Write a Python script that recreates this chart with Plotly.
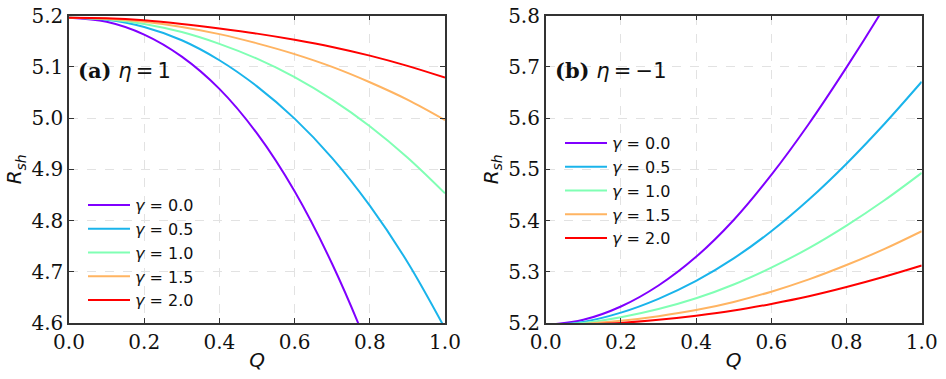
import plotly.graph_objects as go

# Q grid and shadow radius values
q = [0.0, 0.1, 0.2, 0.3, 0.4, 0.5, 0.6, 0.7, 0.8, 0.9, 1.0]
gammas = ["0.0", "0.5", "1.0", "1.5", "2.0"]
colors = ["#8000ff", "#1ab4eb", "#80ffb4", "#ffb462", "#ff0000"]

# (a) eta = 1
rsh_a_g00 = [5.196, 5.188, 5.163, 5.120, 5.057, 4.970, 4.857, 4.715, 4.543, 4.338, 4.098]
rsh_a_g05 = [5.196, 5.192, 5.178, 5.152, 5.113, 5.062, 4.999, 4.922, 4.829, 4.719, 4.589]
rsh_a_g10 = [5.196, 5.193, 5.184, 5.168, 5.145, 5.116, 5.080, 5.036, 4.984, 4.923, 4.853]
rsh_a_g15 = [5.196, 5.194, 5.188, 5.178, 5.164, 5.146, 5.125, 5.100, 5.070, 5.036, 4.996]
rsh_a_g20 = [5.196, 5.195, 5.191, 5.184, 5.175, 5.165, 5.153, 5.139, 5.122, 5.102, 5.079]

# (b) eta = -1
rsh_b_g00 = [5.196, 5.206, 5.232, 5.273, 5.329, 5.401, 5.489, 5.589, 5.699, 5.816, 5.940]
rsh_b_g05 = [5.196, 5.202, 5.220, 5.247, 5.282, 5.326, 5.379, 5.441, 5.511, 5.588, 5.671]
rsh_b_g10 = [5.196, 5.200, 5.211, 5.227, 5.248, 5.275, 5.308, 5.346, 5.390, 5.439, 5.493]
rsh_b_g15 = [5.196, 5.198, 5.204, 5.213, 5.225, 5.241, 5.261, 5.285, 5.313, 5.344, 5.379]
rsh_b_g20 = [5.196, 5.197, 5.200, 5.206, 5.214, 5.224, 5.237, 5.252, 5.270, 5.290, 5.312]

panel_a = [rsh_a_g00, rsh_a_g05, rsh_a_g10, rsh_a_g15, rsh_a_g20]
panel_b = [rsh_b_g00, rsh_b_g05, rsh_b_g10, rsh_b_g15, rsh_b_g20]

W, H = 946, 379


def fx(px):
    return px / W


def fy(py):
    return 1 - py / H


fig = go.Figure()

for g, c, ya in zip(gammas, colors, panel_a):
    fig.add_trace(go.Scatter(x=q, y=ya, mode="lines", line=dict(color=c, width=2, shape="spline"),
                             name="<i>γ</i> = " + g, xaxis="x", yaxis="y", legend="legend"))
for g, c, yb in zip(gammas, colors, panel_b):
    fig.add_trace(go.Scatter(x=q, y=yb, mode="lines", line=dict(color=c, width=2, shape="spline"),
                             name="<i>γ</i> = " + g, xaxis="x2", yaxis="y2", legend="legend2"))

ydom = [fy(322.9), fy(15.7)]
axis_common = dict(
    showline=True, linecolor="#333333", linewidth=1.5, mirror="ticks",
    ticks="inside", ticklen=5, tickwidth=1.2, tickcolor="#333333",
    showgrid=True, gridcolor="#e2e2e2", griddash="dash", gridwidth=1,
    zeroline=False, automargin=False, ticklabeloverflow="allow",
    tickfont=dict(family="DejaVu Serif", size=20, color="#111111"),
)
xtitle = dict(text="<i>Q</i>", font=dict(family="DejaVu Sans", size=20, color="#111111"), standoff=0)
ytitle = dict(text="<i>R<sub>sh</sub></i>", font=dict(family="DejaVu Sans", size=20, color="#111111"), standoff=4)
legfont = dict(family="DejaVu Sans", size=16, color="#111111")

fig.update_layout(
    width=W, height=H,
    margin=dict(l=0, r=0, t=0, b=0),
    paper_bgcolor="white", plot_bgcolor="white",
    xaxis=dict(axis_common, domain=[fx(69), fx(445)], range=[0, 1], dtick=0.2, tickformat=".1f",
               anchor="y", title=xtitle),
    yaxis=dict(axis_common, domain=ydom, range=[4.6, 5.2], dtick=0.1, tickformat=".1f",
               anchor="x", title=ytitle),
    xaxis2=dict(axis_common, domain=[fx(545.7), fx(921.7)], range=[0, 1], dtick=0.2, tickformat=".1f",
                anchor="y2", title=xtitle),
    yaxis2=dict(axis_common, domain=ydom, range=[5.2, 5.8], dtick=0.1, tickformat=".1f",
                anchor="x2", title=ytitle),
    legend=dict(x=fx(83), y=fy(188), xanchor="left", yanchor="top",
                bgcolor="rgba(0,0,0,0)", font=legfont, itemwidth=42, tracegroupgap=0),
    legend2=dict(x=fx(560), y=fy(126), xanchor="left", yanchor="top",
                 bgcolor="rgba(0,0,0,0)", font=legfont, itemwidth=42, tracegroupgap=0),
    annotations=[
        dict(xref="paper", yref="paper", x=fx(76), y=fy(71), xanchor="left", yanchor="middle",
             showarrow=False,
             text="<span style='font-family:DejaVu Serif'><b>(a)</b></span> <i>η</i>\u2009=\u20091",
             font=dict(family="DejaVu Sans", size=21, color="#111111")),
        dict(xref="paper", yref="paper", x=fx(553), y=fy(71), xanchor="left", yanchor="middle",
             showarrow=False,
             text="<span style='font-family:DejaVu Serif'><b>(b)</b></span> <i>η</i>\u2009=\u2009−1",
             font=dict(family="DejaVu Sans", size=21, color="#111111")),
    ],
)

# drop the browser's default 8px body margin so the figure sits at the window corner
fig.write_html("out.html", config={"displayModeBar": False},
               post_script="document.body.style.margin='0';")
